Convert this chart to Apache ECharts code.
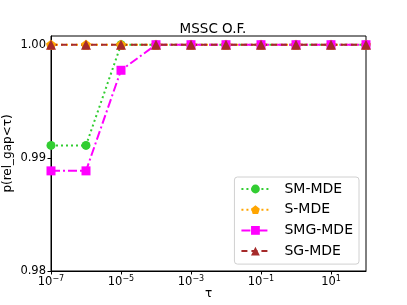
<!DOCTYPE html>
<html>
<head>
<meta charset="utf-8">
<script src="https://cdn.jsdelivr.net/npm/echarts@6/dist/echarts.min.js"></script>
<style>html,body{margin:0;padding:0;background:#fff}#c{width:407px;height:305px}</style>
</head>
<body>
<div id="c"></div>
<script>
const tau = [1e-7, 1e-6, 1e-5, 1e-4, 1e-3, 1e-2, 1e-1, 1e0, 1e1, 1e2];
const smMde  = [0.9911, 0.9911, 1, 1, 1, 1, 1, 1, 1, 1];
const sMde   = [1, 1, 1, 1, 1, 1, 1, 1, 1, 1];
const smgMde = [0.98885, 0.98885, 0.99774, 1, 1, 1, 1, 1, 1, 1];
const sgMde  = [1, 1, 1, 1, 1, 1, 1, 1, 1, 1];
const xTicks = [1e-7, 1e-5, 1e-3, 1e-1, 1e1];
const yTicks = [0.98, 0.99, 1.00];
const seriesNames = ['SM-MDE', 'S-MDE', 'SMG-MDE', 'SG-MDE'];

const FONT = 'DejaVu Sans';
const pentagon = 'path://M0,-10 L9.51,-3.09 L5.88,8.09 L-5.88,8.09 L-9.51,-3.09 Z';
const pair = arr => tau.map((t, i) => [t, arr[i]]);

const chart = echarts.init(document.getElementById('c'), null, {renderer: 'canvas'});
const sup = e => String(e).replace('-', '\u2212');
chart.setOption({
  animation: false,
  backgroundColor: '#fff',
  textStyle: {fontFamily: FONT},
  title: {
    text: 'MSSC O.F.', left: 208, top: 17, textAlign: 'center',
    textStyle: {fontFamily: FONT, fontSize: 13.5, fontWeight: 'normal', color: '#000'}
  },
  grid: {left: 51, right: 41, top: 36, bottom: 34, show: true, borderColor: '#000', borderWidth: 1,
         backgroundColor: 'transparent', containLabel: false, outerBoundsMode: 'none'},
  xAxis: {
    type: 'log', logBase: 10, min: 1e-7, max: 1e2,
    name: 'τ', nameLocation: 'middle', nameGap: 17, nameMoveOverlap: false,
    nameTextStyle: {fontFamily: FONT, fontSize: 12, color: '#000'},
    axisLine: {show: true, lineStyle: {color: '#000', width: 1}},
    axisTick: {show: true, length: 3.5, lineStyle: {color: '#000'}, customValues: xTicks},
    minorTick: {show: false},
    splitLine: {show: false},
    axisLabel: {
      customValues: xTicks, margin: 4, color: '#000',
      formatter: v => '{b|10}{s|' + sup(Math.round(Math.log10(v))) + '}',
      rich: {
        b: {fontFamily: FONT, fontSize: 11.5, color: '#000'},
        s: {fontFamily: FONT, fontSize: 8, color: '#000', padding: [0, 0, 7, 0]}
      }
    }
  },
  yAxis: {
    type: 'value', min: 0.98, max: 1.00077,
    name: 'p(rel_gap<τ)', nameLocation: 'middle', nameGap: 37, nameMoveOverlap: false,
    nameTextStyle: {fontFamily: FONT, fontSize: 12, color: '#000'},
    axisLine: {show: true, lineStyle: {color: '#000', width: 1}},
    axisTick: {show: true, length: 3.5, lineStyle: {color: '#000'}, customValues: yTicks},
    splitLine: {show: false},
    axisLabel: {
      customValues: yTicks, margin: 5, color: '#000',
      fontFamily: FONT, fontSize: 11.5,
      formatter: v => v.toFixed(2)
    }
  },
  legend: {
    orient: 'vertical', right: 48, top: 177,
    data: seriesNames,
    itemWidth: 28, itemHeight: 11, itemGap: 4.7,
    padding: [4, 6, 5, 6],
    borderColor: '#d0d0d0', borderWidth: 1, borderRadius: 3,
    backgroundColor: 'rgba(255,255,255,0.85)',
    textStyle: {fontFamily: FONT, fontSize: 14, lineHeight: 16, color: '#000', padding: [0, 0, 0, 10]}
  },
  series: [
    {
      name: seriesNames[0], type: 'line', data: pair(smMde),
      symbol: 'circle', symbolSize: 9,
      itemStyle: {color: '#32CD32'},
      lineStyle: {color: '#32CD32', width: 2, type: [2, 3]}
    },
    {
      name: seriesNames[1], type: 'line', data: pair(sMde),
      symbol: pentagon, symbolSize: 10,
      itemStyle: {color: '#FFA500'},
      lineStyle: {color: '#FFA500', width: 2, type: [2, 3]}
    },
    {
      name: seriesNames[2], type: 'line', data: pair(smgMde),
      symbol: 'rect', symbolSize: 9,
      itemStyle: {color: '#FF00FF'},
      lineStyle: {color: '#FF00FF', width: 2, type: [9, 3, 2, 3]}
    },
    {
      name: seriesNames[3], type: 'line', data: pair(sgMde),
      symbol: 'triangle', symbolSize: 10,
      itemStyle: {color: '#A52A2A'},
      lineStyle: {color: '#A52A2A', width: 2, type: [6, 4]}
    }
  ]
});
</script>
</body>
</html>
